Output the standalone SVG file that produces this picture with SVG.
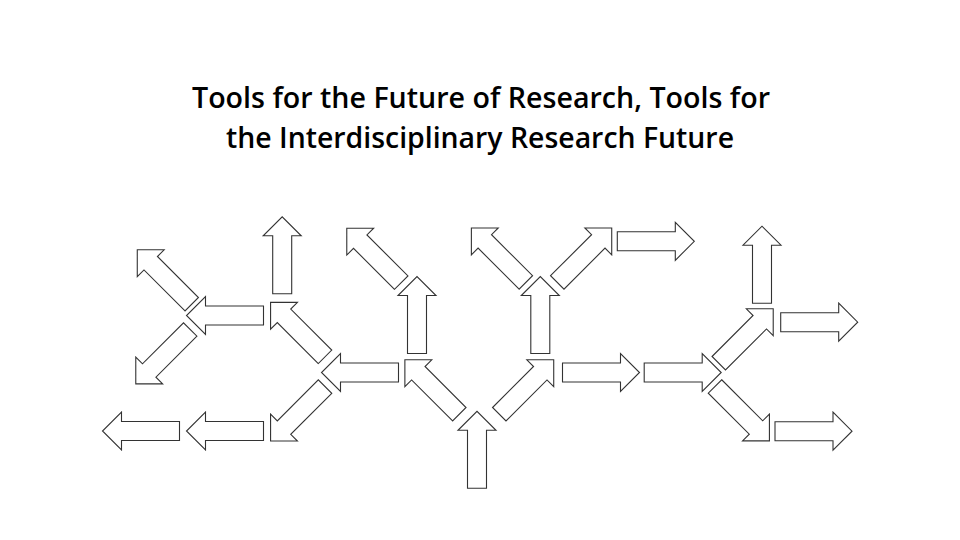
<svg xmlns="http://www.w3.org/2000/svg" xmlns:xlink="http://www.w3.org/1999/xlink" width="960" height="540" viewBox="0 0 960 540">
  <style>
    .title { font-family: "Open Sans", Lato, "Liberation Sans", sans-serif; font-weight: 600; font-size: 28px; fill: #000; text-anchor: middle; }
    .arrow { fill: #fff; stroke: #333; stroke-width: 1.1; stroke-linejoin: miter; }
  </style>
  <defs>
    <!-- block arrow centred on the origin, pointing to +x -->
    <path id="blk" d="M-38.5,-9.5 H19.5 V-19 L38.5,0 L19.5,19 V9.5 H-38.5 Z"/>
  </defs>
  <rect width="960" height="540" fill="#fff"/>

  <g id="title">
    <text class="title" x="481" y="108" textLength="578" lengthAdjust="spacingAndGlyphs">Tools for the Future of Research, Tools for</text>
    <text class="title" x="480" y="148" textLength="508" lengthAdjust="spacingAndGlyphs">the Interdisciplinary Research Future</text>
  </g>

  <g id="connectors">
    <!-- left cluster -->
    <use id="a1" class="arrow" href="#blk" transform="translate(164.5,277) rotate(-135)"/>
    <use id="a2" class="arrow" href="#blk" transform="translate(225,315.5) rotate(180)"/>
    <use id="a3" class="arrow" href="#blk" transform="translate(163,356.7) rotate(135)"/>
    <use id="a4" class="arrow" href="#blk" transform="translate(282.2,255.3) rotate(-90)"/>
    <use id="a5" class="arrow" href="#blk" transform="translate(297.8,329.6) rotate(-135)"/>
    <use id="a6" class="arrow" href="#blk" transform="translate(297.8,413.8) rotate(135)"/>
    <use id="a7" class="arrow" href="#blk" transform="translate(225,431) rotate(180)"/>
    <use id="a8" class="arrow" href="#blk" transform="translate(141,431) rotate(180)"/>

    <!-- centre-left branch -->
    <use id="a9" class="arrow" href="#blk" transform="translate(374,255.4) rotate(-135)"/>
    <use id="a10" class="arrow" href="#blk" transform="translate(417,315) rotate(-90)"/>
    <use id="a11" class="arrow" href="#blk" transform="translate(360,372.5) rotate(180)"/>
    <use id="a12" class="arrow" href="#blk" transform="translate(432.1,387) rotate(-135)"/>
    <use id="a13" class="arrow" href="#blk" transform="translate(477,449.8) rotate(-90)"/>

    <!-- centre-right branch -->
    <use id="a14" class="arrow" href="#blk" transform="translate(526.5,387) rotate(-45)"/>
    <use id="a15" class="arrow" href="#blk" transform="translate(540.3,315) rotate(-90)"/>
    <use id="a16" class="arrow" href="#blk" transform="translate(498.6,255.2) rotate(-135)"/>
    <use id="a17" class="arrow" href="#blk" transform="translate(584.5,255.2) rotate(-45)"/>
    <use id="a18" class="arrow" href="#blk" transform="translate(655.8,241.3) rotate(0)"/>
    <use id="a19" class="arrow" href="#blk" transform="translate(601,372.5) rotate(0)"/>
    <use id="a20" class="arrow" href="#blk" transform="translate(682.7,372.5) rotate(0)"/>

    <!-- right cluster -->
    <use id="a21" class="arrow" href="#blk" transform="translate(746,336) rotate(-45)"/>
    <use id="a22" class="arrow" href="#blk" transform="translate(742.2,413.7) rotate(45)"/>
    <use id="a23" class="arrow" href="#blk" transform="translate(762,264.7) rotate(-90)"/>
    <use id="a24" class="arrow" href="#blk" transform="translate(819.2,322.2) rotate(0)"/>
    <use id="a25" class="arrow" href="#blk" transform="translate(813.5,431.2) rotate(0)"/>
  </g>
</svg>
